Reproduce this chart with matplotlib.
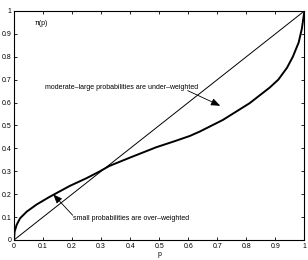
import numpy as np
from matplotlib import pyplot as plt

## values
p_vals = [0, 0.002, 0.009, 0.021, 0.044, 0.078, 0.118, 0.141, 0.192, 0.25,
          0.293, 0.328, 0.40, 0.49, 0.55, 0.605, 0.639, 0.719, 0.811, 0.88,
          0.91, 0.94, 0.96, 0.98, 0.991, 0.996, 1.0]
w_vals = [0, 0.036, 0.066, 0.095, 0.124, 0.155, 0.185, 0.201, 0.236, 0.27,
          0.298, 0.323, 0.36, 0.405, 0.43, 0.454, 0.473, 0.524, 0.597, 0.665,
          0.70, 0.752, 0.80, 0.862, 0.922, 0.966, 1.0]
diag = [0, 1]
ticks = [round(0.1 * i, 1) for i in range(11)]
tick_labels = ["0"] + [str(t) for t in ticks[1:-1]] + ["1"]

plt.rcParams['font.family'] = ['Liberation Sans', 'DejaVu Sans']

fig = plt.figure(figsize=(3.08, 2.6), dpi=100)
ax = fig.add_axes([0.0455, 0.077, 0.943, 0.881])

ax.plot(diag, diag, color='k', lw=0.7)
ax.plot(p_vals, w_vals, color='k', lw=1.4)

ax.set_xlim(0, 1)
ax.set_ylim(0, 1)
ax.set_xticks(ticks)
ax.set_yticks(ticks)
ax.set_xticklabels(tick_labels)
ax.set_yticklabels(tick_labels)
ax.tick_params(direction='in', top=True, right=True, labelsize=5, length=2.5,
               width=0.6, pad=2)
for s in ax.spines.values():
    s.set_linewidth(0.8)

ax.set_xlabel("p", fontsize=5, labelpad=1)
ax.text(0.072, 0.94, "π(p)", fontsize=5)

arrow = dict(arrowstyle='-|>,head_length=0.55,head_width=0.22', color='k', lw=0.6,
             shrinkA=0, shrinkB=0)
ax.text(0.107, 0.664, "moderate\u2013large probabilities are under\u2013weighted",
        fontsize=5, va='center')
ax.annotate("", xy=(0.71, 0.586), xytext=(0.598, 0.652), arrowprops=arrow)
ax.text(0.204, 0.095, "small probabilities are over\u2013weighted",
        fontsize=5, va='center')
ax.annotate("", xy=(0.135, 0.199), xytext=(0.202, 0.108), arrowprops=arrow)

fig.savefig("out.png", dpi=100)
